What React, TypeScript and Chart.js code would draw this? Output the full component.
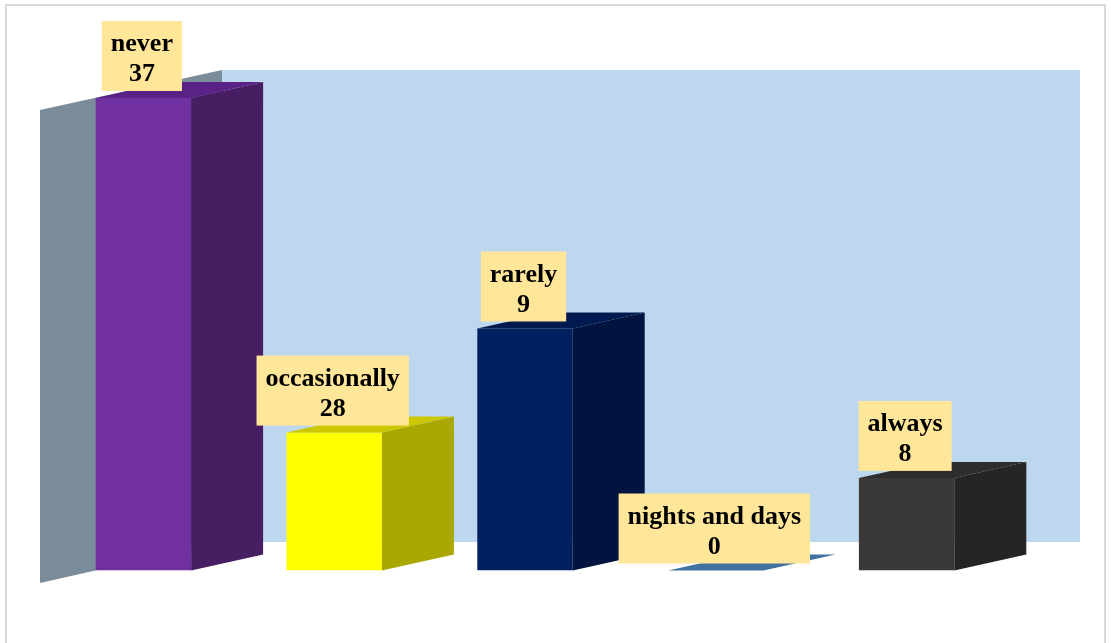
import React, { useEffect, useRef } from "react";
import { Chart, registerables } from "chart.js";

Chart.register(...registerables);

// ---- data ----
const categories = ["never", "occasionally", "rarely", "nights and days", "always"];
const labelValues = [37, 28, 9, 0, 8];
// bar heights as drawn in the picture (same unit as the "never" bar = 37)
const barHeights = [37, 10.8, 18.95, 0, 7.25];

// ---- styles ----
const frontColors = ["#7030A0", "#FFFF00", "#002060", "#41729F", "#3A3838"];
const sideColors = ["#481E63", "#AAA800", "#00143F", "#2E5272", "#262526"];
const topColors = ["#5A2287", "#CBC800", "#001A4F", "#41729F", "#2E2D2E"];

const DX = 72;
const DY = -16;

const threeD = {
  id: "threeD",
  beforeDraw(chart: any) {
    const ctx = chart.ctx as CanvasRenderingContext2D;
    const W = chart.width;
    const H = chart.height;
    ctx.save();
    ctx.fillStyle = "#ffffff";
    ctx.fillRect(0, 0, W, H);
    // outer border
    ctx.strokeStyle = "#D9D9D9";
    ctx.lineWidth = 2;
    ctx.strokeRect(6, 5, W - 12, H + 10);
    // back wall
    ctx.fillStyle = "#BDD7EE";
    ctx.fillRect(222, 70, 1080 - 222, 542 - 70);
    // side wall
    ctx.fillStyle = "#7A8B99";
    ctx.beginPath();
    ctx.moveTo(40, 110);
    ctx.lineTo(222, 70);
    ctx.lineTo(222, 542);
    ctx.lineTo(40, 583);
    ctx.closePath();
    ctx.fill();
    ctx.restore();
  },
  afterDatasetsDraw(chart: any) {
    const ctx = chart.ctx as CanvasRenderingContext2D;
    const meta = chart.getDatasetMeta(0);
    ctx.save();
    meta.data.forEach((bar: any, i: number) => {
      const { x, y, base, width } = bar.getProps(["x", "y", "base", "width"], true);
      const l = x - width / 2;
      const r = x + width / 2;
      if (base - y > 0.5) {
        ctx.fillStyle = sideColors[i];
        ctx.beginPath();
        ctx.moveTo(r, y);
        ctx.lineTo(r + DX, y + DY);
        ctx.lineTo(r + DX, base + DY);
        ctx.lineTo(r, base);
        ctx.closePath();
        ctx.fill();
      }
      ctx.fillStyle = topColors[i];
      ctx.beginPath();
      ctx.moveTo(l, y);
      ctx.lineTo(r, y);
      ctx.lineTo(r + DX, y + DY);
      ctx.lineTo(l + DX, y + DY);
      ctx.closePath();
      ctx.fill();
    });
    ctx.restore();
  },
  afterDraw(chart: any) {
    const ctx = chart.ctx as CanvasRenderingContext2D;
    const meta = chart.getDatasetMeta(0);
    ctx.save();
    ctx.font = "bold 26px 'Liberation Serif', 'Times New Roman', serif";
    meta.data.forEach((bar: any, i: number) => {
      const { x, y } = bar.getProps(["x", "y"], true);
      const l1 = String(chart.data.labels[i]);
      const l2 = String(labelValues[i]);
      const tw = Math.max(ctx.measureText(l1).width, ctx.measureText(l2).width);
      const bw = tw + 18;
      const bh = 70;
      const cx = x - 1.5;
      const bottom = y - 7;
      const top = bottom - bh;
      ctx.fillStyle = "#FFE699";
      ctx.fillRect(cx - bw / 2, top, bw, bh);
      ctx.fillStyle = "#000000";
      ctx.textAlign = "center";
      ctx.textBaseline = "alphabetic";
      ctx.fillText(l1, cx, top + 30);
      ctx.fillText(l2, cx, top + 60);
    });
    ctx.restore();
  },
};

export default function App() {
  const ref = useRef<HTMLCanvasElement | null>(null);
  useEffect(() => {
    document.body.style.margin = "0";
    if (!ref.current) return;
    const chart = new Chart(ref.current, {
      type: "bar",
      data: {
        labels: categories,
        datasets: [
          {
            data: barHeights,
            backgroundColor: frontColors,
            borderWidth: 0,
            barPercentage: 0.5,
            categoryPercentage: 1,
          },
        ],
      },
      options: {
        responsive: false,
        animation: false,
        devicePixelRatio: 1,
        layout: { padding: { left: 48, right: 109, top: 98, bottom: 72.5 } },
        plugins: { legend: { display: false }, tooltip: { enabled: false } },
        scales: {
          x: { display: false },
          y: { display: false, min: 0, max: 37 },
        },
      },
      plugins: [threeD],
    } as any);
    return () => chart.destroy();
  }, []);
  return <canvas ref={ref} width={1111} height={643} style={{ display: "block" }} />;
}
